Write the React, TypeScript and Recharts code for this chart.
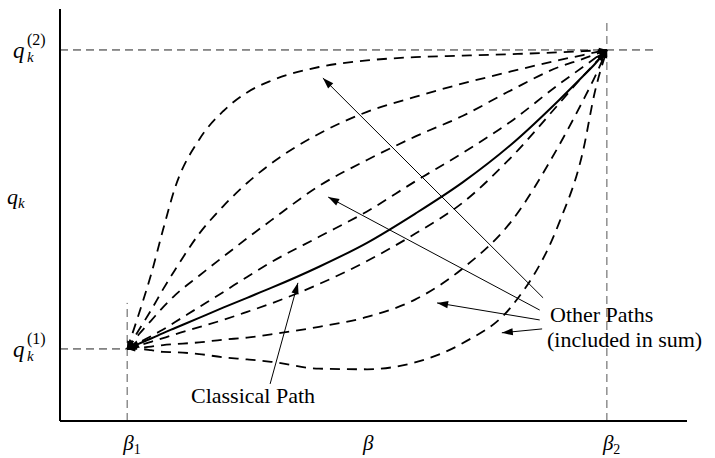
import { LineChart, Line, XAxis, YAxis, ReferenceLine } from 'recharts';

// inverse temperature samples, from beta1 (0) to beta2 (1)
const betaSteps = [0, 0.025, 0.05, 0.075, 0.1, 0.15, 0.2, 0.25, 0.3, 0.4, 0.5, 0.6, 0.7, 0.8, 0.9, 0.95, 0.975, 1];

// q_k along each path, q_k(1) = 0 and q_k(2) = 1
const otherPath1 = [0, 0.12, 0.25, 0.4, 0.54, 0.7, 0.795, 0.858, 0.897, 0.943, 0.965, 0.976, 0.981, 0.986, 0.992, 0.996, 0.998, 1];
const otherPath2 = [0, 0.065, 0.13, 0.2, 0.265, 0.385, 0.477, 0.555, 0.62, 0.72, 0.793, 0.843, 0.888, 0.928, 0.966, 0.983, 0.992, 1];
const otherPath3 = [0, 0.05, 0.095, 0.14, 0.18, 0.245, 0.308, 0.37, 0.43, 0.545, 0.632, 0.71, 0.78, 0.865, 0.943, 0.97, 0.985, 1];
const otherPath4 = [0, 0.022, 0.043, 0.065, 0.09, 0.14, 0.19, 0.241, 0.29, 0.375, 0.46, 0.56, 0.656, 0.761, 0.885, 0.943, 0.972, 1];
const classicalPath = [0, 0.018, 0.035, 0.053, 0.07, 0.104, 0.138, 0.171, 0.204, 0.275, 0.355, 0.452, 0.558, 0.683, 0.832, 0.912, 0.953, 1];
const otherPath6 = [0, 0.012, 0.024, 0.036, 0.049, 0.073, 0.097, 0.124, 0.152, 0.217, 0.294, 0.385, 0.49, 0.64, 0.82, 0.912, 0.955, 1];
const otherPath7 = [0, 0.004, 0.008, 0.013, 0.016, 0.022, 0.031, 0.038, 0.049, 0.074, 0.107, 0.165, 0.27, 0.425, 0.68, 0.83, 0.91, 1];
const otherPath8 = [0, 0, -0.004, -0.01, -0.011, -0.017, -0.028, -0.035, -0.043, -0.066, -0.068, -0.045, 0.02, 0.14, 0.42, 0.66, 0.86, 1];

const dashedPaths = [otherPath1, otherPath2, otherPath3, otherPath4, otherPath6, otherPath7, otherPath8];

// axis ticks and their labels
const xTicks = [0, 0.5, 1];
const xSubs = ['1', '', '2'];
const yTicks = [0, 0.5, 1];
const ySups = ['(1)', '', '(2)'];

// pointer arrows [tail, tip] in (beta, q)
const otherPointers = [
  [[0.867, 0.171], [0.408, 0.906]],
  [[0.86, 0.13], [0.419, 0.508]],
  [[0.86, 0.097], [0.646, 0.154]],
  [[0.865, 0.067], [0.781, 0.054]],
];
const classicalPointer = [[0.298, -0.117], [0.356, 0.221]];

const rows = betaSteps.map((t, i) => {
  const row: any = { t, classical: classicalPath[i] };
  dashedPaths.forEach((p, k) => (row[`p${k}`] = p[i]));
  return row;
});

const serif = { fontFamily: "'Liberation Serif', 'DejaVu Serif', Tinos, serif" };
const mathIt = { ...serif, fontStyle: 'italic' };

const arrowHead = (x: number, y: number, px: number, py: number, size: number, key: string) => {
  const dx = x - px;
  const dy = y - py;
  const len = Math.hypot(dx, dy) || 1;
  const ux = dx / len;
  const uy = dy / len;
  const bx = x - ux * size;
  const by = y - uy * size;
  const w = size * 0.33;
  return (
    <polygon
      key={key}
      points={`${x},${y} ${bx - uy * w},${by + ux * w} ${bx + uy * w},${by - ux * w}`}
      fill="#000"
      stroke="none"
    />
  );
};

// arrowheads at both ends of a path
const pathEnds = (size: number) => (props: any) => {
  const { index, points, cx, cy } = props;
  if (!points || (index !== 0 && index !== points.length - 1)) return <g key={`e${index}`} />;
  const prev = index === 0 ? points[1] : points[points.length - 2];
  return arrowHead(cx, cy, prev.x, prev.y, size, `e${index}`);
};

const Pointer = (props: any) => {
  const { x1, y1, x2, y2 } = props;
  return (
    <g>
      <line x1={x1} y1={y1} x2={x2} y2={y2} stroke="#000" strokeWidth={1} />
      {arrowHead(x2, y2, x1, y1, 11, 'h')}
    </g>
  );
};

const XTick = ({ x, index }: any) => (
  <text x={x - 4} y={450} fontSize={21} fill="#000" style={mathIt}>
    β
    <tspan fontSize={14} dy={4} style={{ fontStyle: 'normal' }}>{xSubs[index]}</tspan>
  </text>
);

const YTick = ({ y, index }: any) => {
  if (!ySups[index]) {
    return (
      <text x={7} y={y + 5} fontSize={22} fill="#000" style={mathIt}>
        q<tspan fontSize={15} dy={4}>k</tspan>
      </text>
    );
  }
  return (
    <g fill="#000">
      <text x={13} y={y + 8} fontSize={23} style={mathIt}>q</text>
      <text x={27} y={y + 12} fontSize={15} style={mathIt}>k</text>
      <text x={27} y={y - 5} fontSize={16} style={serif}>{ySups[index]}</text>
    </g>
  );
};

const App = () => (
  <div style={{ position: 'absolute', left: 0, top: 0, width: 715, height: 458, background: '#fff' }}>
    <LineChart width={715} height={458} data={rows} margin={{ top: 9, right: 28, bottom: 0, left: 0 }}>
      <XAxis
        dataKey="t"
        type="number"
        domain={[-0.14, 1.167]}
        allowDataOverflow
        ticks={xTicks}
        tick={<XTick />}
        tickLine={false}
        axisLine={{ stroke: '#000', strokeWidth: 2 }}
        height={37}
      />
      <YAxis
        type="number"
        domain={[-0.241, 1.137]}
        allowDataOverflow
        ticks={yTicks}
        tick={<YTick />}
        tickLine={false}
        axisLine={{ stroke: '#000', strokeWidth: 2 }}
        width={60}
      />
      <ReferenceLine segment={[{ x: -0.14, y: 1 }, { x: 1.1, y: 1 }]} stroke="#222" strokeDasharray="8 5" ifOverflow="visible" />
      <ReferenceLine segment={[{ x: 1, y: -0.241 }, { x: 1, y: 1.1 }]} stroke="#555" strokeDasharray="8 5" ifOverflow="visible" />
      <ReferenceLine segment={[{ x: -0.14, y: 0 }, { x: 0, y: 0 }]} stroke="#222" strokeDasharray="8 5" ifOverflow="visible" />
      <ReferenceLine segment={[{ x: 0, y: -0.241 }, { x: 0, y: 0.154 }]} stroke="#555" strokeDasharray="8 5" ifOverflow="visible" />
      {dashedPaths.map((_, k) => (
        <Line
          key={k}
          dataKey={`p${k}`}
          type="monotone"
          stroke="#000"
          strokeWidth={1.8}
          strokeDasharray="10 7"
          dot={pathEnds(8)}
          activeDot={false}
          isAnimationActive={false}
        />
      ))}
      <Line
        dataKey="classical"
        type="monotone"
        stroke="#000"
        strokeWidth={2}
        dot={pathEnds(12)}
        activeDot={false}
        isAnimationActive={false}
      />
      {otherPointers.map(([a, b], i) => (
        <ReferenceLine
          key={`op${i}`}
          segment={[{ x: a[0], y: a[1] }, { x: b[0], y: b[1] }]}
          shape={<Pointer />}
          ifOverflow="visible"
        />
      ))}
      <ReferenceLine
        segment={[{ x: classicalPointer[0][0], y: classicalPointer[0][1] }, { x: classicalPointer[1][0], y: classicalPointer[1][1] }]}
        shape={<Pointer />}
        ifOverflow="visible"
      />
    </LineChart>
    <svg width={715} height={458} style={{ position: 'absolute', left: 0, top: 0, pointerEvents: 'none' }}>
      <g fontSize={22} fill="#000" style={serif}>
        <text x={550} y={322}>Other Paths</text>
        <text x={547} y={347}>(included in sum)</text>
        <text x={191} y={403}>Classical Path</text>
      </g>
    </svg>
  </div>
);

export default App;
